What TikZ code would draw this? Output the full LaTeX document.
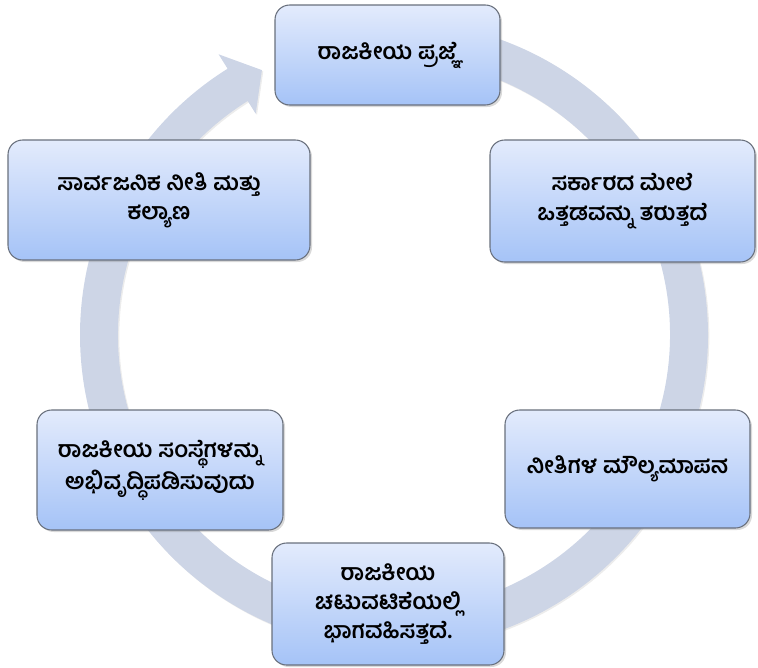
\documentclass[tikz,border=0pt]{standalone}
\usepackage{fontspec}
\newfontfamily\kannada[Script=Kannada]{Hind Mysuru}
\usetikzlibrary{shadows}
\definecolor{ringcolor}{RGB}{205,213,230}
\definecolor{boxtop}{RGB}{227,235,252}
\definecolor{boxbottom}{RGB}{165,195,247}
\definecolor{boxline}{RGB}{105,112,125}

\begin{document}
\begin{tikzpicture}[
    x=0.75pt, y=-0.75pt,
    stepbox/.style={rectangle, draw=boxline, line width=0.8pt, rounded corners=11pt, top color=boxtop, bottom color=boxbottom, align=center, font=\kannada\bfseries\fontsize{17}{22}\selectfont, drop shadow={opacity=0.3, shadow xshift=1.5pt, shadow yshift=-1.5pt}},
    ring/.style={fill=ringcolor, drop shadow={opacity=0.15, shadow xshift=1pt, shadow yshift=-1pt}}
]
\useasboundingbox (0,0) rectangle (758,668);

% cycle ring with its arrow head
\begin{scope}[shift={(394,335)}]
\path[ring] (-95:314) arc[start angle=-95, end angle=238, radius=314] -- (238:331) -- (243.5:296) -- (238:261) -- (238:276) arc[start angle=238, end angle=-95, radius=276] -- cycle;
\end{scope}

\node[stepbox, minimum width=168.75pt, minimum height=75pt] (awareness) at (387.5,55) {ರಾಜಕೀಯ ಪ್ರಜ್ಞೆ};
\node[stepbox, minimum width=198.75pt, minimum height=91.5pt] (pressure) at (622.5,201) {ಸರ್ಕಾರದ ಮೇಲೆ\\ಒತ್ತಡವನ್ನು ತರುತ್ತದೆ};
\node[stepbox, minimum width=183.75pt, minimum height=88.5pt] (evaluation) at (627.5,469) {ನೀತಿಗಳ ಮೌಲ್ಯಮಾಪನ};
\node[stepbox, minimum width=174pt, minimum height=91.5pt] (participation) at (388,604) {ರಾಜಕೀಯ\\ಚಟುವಟಿಕೆಯಲ್ಲಿ\\ಭಾಗವಹಿಸತ್ತದೆ.};
\node[stepbox, minimum width=184.5pt, minimum height=90pt] (institutions) at (160,470) {ರಾಜಕೀಯ ಸಂಸ್ಥೆಗಳನ್ನು\\ಅಭಿವೃದ್ಧಿಪಡಿಸುವುದು};
\node[stepbox, minimum width=226.5pt, minimum height=90pt] (welfare) at (159,200) {ಸಾರ್ವಜನಿಕ ನೀತಿ ಮತ್ತು\\ಕಲ್ಯಾಣ};
\end{tikzpicture}
\end{document}
